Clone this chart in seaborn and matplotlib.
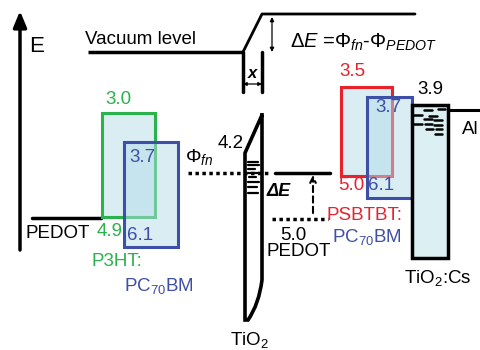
import matplotlib
matplotlib.use("Agg")
import matplotlib.pyplot as plt
import seaborn as sns
from matplotlib.patches import Rectangle, PathPatch, FancyArrowPatch
from matplotlib.path import Path

# Energy levels (eV)
p3ht_levels = [3.0, 4.9]          # LUMO, HOMO
pc70bm_levels = [3.7, 6.1]        # LUMO, HOMO
psbtbt_levels = [3.5, 5.0]        # LUMO, HOMO
tio2cs_level = 3.9
tio2_level = 4.2
pedot_wf = 5.0

# Material labels
left_donor = "P3HT:"
right_donor = "PSBTBT:"
acceptor = r"PC$_{70}$BM"

sns.set_theme(style="white")
plt.rcParams["font.family"] = ["Liberation Sans", "DejaVu Sans"]
plt.rcParams["mathtext.fontset"] = "custom"
plt.rcParams["mathtext.rm"] = "Liberation Sans"
plt.rcParams["mathtext.it"] = "Liberation Sans:italic"
plt.rcParams["mathtext.bf"] = "Liberation Sans:bold"

GREEN = "#2ab24c"
BLUE = "#3d4fa6"
RED = "#e8222c"
FILL = "#b4dde8"
FS = 13.5

fig = plt.figure(figsize=(4.81, 3.50), dpi=100)
ax = fig.add_axes([0, 0, 1, 1])
ax.set_xlim(0, 481)
ax.set_ylim(350, 0)
ax.axis("off")

def fmt(v):
    return f"{v:.1f}"

def filled_box(x0, x1, top, bottom, edge, lw=2.2):
    # translucent fill first, then the outline; a later box's fill tints
    # the outlines of earlier boxes where they overlap
    ax.add_patch(Rectangle((x0, top), x1 - x0, bottom - top, facecolor=FILL,
                           alpha=0.5, edgecolor="none", zorder=2))
    ax.add_patch(Rectangle((x0, top), x1 - x0, bottom - top, facecolor="none",
                           edgecolor=edge, lw=lw, zorder=2))

def txt(x, y, s, color="black", ha="left", size=FS, **kw):
    ax.text(x, y, s, color=color, ha=ha, va="center", fontsize=size, **kw)

# ---- energy axis ----
ax.annotate("", xy=(20, 11), xytext=(20, 250),
            arrowprops=dict(arrowstyle="-|>,head_length=0.6,head_width=0.25",
                            lw=2.5, color="black",
                            mutation_scale=16, shrinkA=0, shrinkB=0))
txt(29, 46, "E", size=16)

# ---- vacuum level with interface step ----
ax.plot([88, 243], [52, 52], color="black", lw=2.5, solid_capstyle="butt")
ax.plot([243, 262, 415], [52, 14, 14], color="black", lw=2.0)
ax.plot([243, 243], [52, 92], color="black", lw=2.5)
ax.plot([262, 262], [52, 92], color="black", lw=2.5)
txt(85, 39, "Vacuum level")
ax.add_patch(FancyArrowPatch((243, 84), (262, 84), arrowstyle="<|-|>",
                             mutation_scale=5, lw=0.9, color="black",
                             shrinkA=0, shrinkB=0))
txt(252, 73, "x", ha="center", size=12, fontweight="bold", style="italic")
ax.add_patch(FancyArrowPatch((272, 17), (272, 52), arrowstyle="<|-|>",
                             mutation_scale=6, lw=0.9, color="black",
                             shrinkA=0, shrinkB=0))
txt(290, 42, r"$\mathit{ΔE}$ =$\Phi_{\mathit{fn}}$-$\Phi_{\mathit{PEDOT}}$",
    size=14.5)

# ---- left cell: PEDOT / P3HT:PC70BM ----
ax.plot([32, 101], [218, 218], color="black", lw=2.5)
txt(26, 233, "PEDOT")
filled_box(102, 155, 113, 217, GREEN)
filled_box(124, 178, 142, 247, BLUE)
txt(118, 100, fmt(p3ht_levels[0]), GREEN, ha="center")
txt(110, 232, fmt(p3ht_levels[1]), GREEN, ha="center")
txt(142, 157, fmt(pc70bm_levels[0]), BLUE, ha="center")
txt(140, 236, fmt(pc70bm_levels[1]), BLUE, ha="center")
txt(92, 262, left_donor, GREEN)
txt(124, 286, acceptor, BLUE)

# ---- TiO2 interlayer ----
tio2 = Path([(262, 113), (262, 280), (259, 304), (248, 320), (245, 320),
             (245, 153), (262, 115)],
            [Path.MOVETO, Path.LINETO, Path.CURVE3, Path.CURVE3, Path.LINETO,
             Path.LINETO, Path.LINETO])
ax.add_patch(PathPatch(tio2, facecolor="white", edgecolor="black", lw=2.6,
                       joinstyle="miter", zorder=3))
for y, x0, x1 in [(162, 248, 258), (165, 248, 259), (169, 248, 255),
                  (173, 248, 261), (177, 249, 256), (182, 248, 259),
                  (187, 248, 257), (193, 248, 258)]:
    ax.plot([x0, x1], [y, y], color="black", lw=1.6, zorder=4)
txt(231, 143, fmt(tio2_level), ha="center")
txt(230, 340, r"TiO$_2$")

# ---- Fermi level / PEDOT work function offset ----
txt(185, 157, r"$\Phi_{\mathit{fn}}$", size=14)
ax.plot([188, 268], [173, 173], color="black", lw=2.5, ls=(0, (1, 1)), zorder=5)
ax.plot([275, 330], [173, 173], color="black", lw=2.5)
ax.plot([272, 328], [219, 219], color="black", lw=2.5, ls=(0, (1, 1)))
ax.add_patch(FancyArrowPatch((313, 213), (313, 175), arrowstyle="->",
                             mutation_scale=10, lw=1.5, color="black",
                             ls=(0, (3, 2)), shrinkA=0, shrinkB=0))
txt(267, 192, "ΔE", size=13, fontweight="bold", style="italic")
txt(293, 236, fmt(pedot_wf), ha="center")
txt(267, 252, "PEDOT")

# ---- right cell: PSBTBT:PC70BM / TiO2:Cs / Al ----
filled_box(341, 392, 87, 176, RED)
filled_box(367, 412, 97, 198, BLUE)
ax.add_patch(Rectangle((412, 105), 36, 153, facecolor="#dcf0f4",
                       edgecolor="black", lw=2.5, zorder=3))
for y, x0, x1 in [(110, 424, 432), (109, 438, 445), (115, 412, 422),
                  (116, 429, 437), (119, 424, 432), (120, 434, 442),
                  (124, 412, 422), (124, 425, 432), (125, 434, 442),
                  (129, 426, 433), (129, 436, 442), (134, 435, 442)]:
    ax.plot([x0, x1], [y, y], color="black", lw=1.8, zorder=4)
ax.plot([448, 481], [110, 110], color="black", lw=2.2)
txt(352, 72, fmt(psbtbt_levels[0]), RED, ha="center")
txt(351, 186, fmt(psbtbt_levels[1]), RED, ha="center")
txt(388, 107, fmt(pc70bm_levels[0]), BLUE, ha="center")
txt(381, 186, fmt(pc70bm_levels[1]), BLUE, ha="center")
txt(430, 89, fmt(tio2cs_level), ha="center")
txt(327, 215, right_donor, RED)
txt(332, 237, acceptor, BLUE)
txt(462, 130, "Al")
txt(404, 278, r"TiO$_2$:Cs")

fig.savefig("out.png", dpi=100, facecolor="white")
